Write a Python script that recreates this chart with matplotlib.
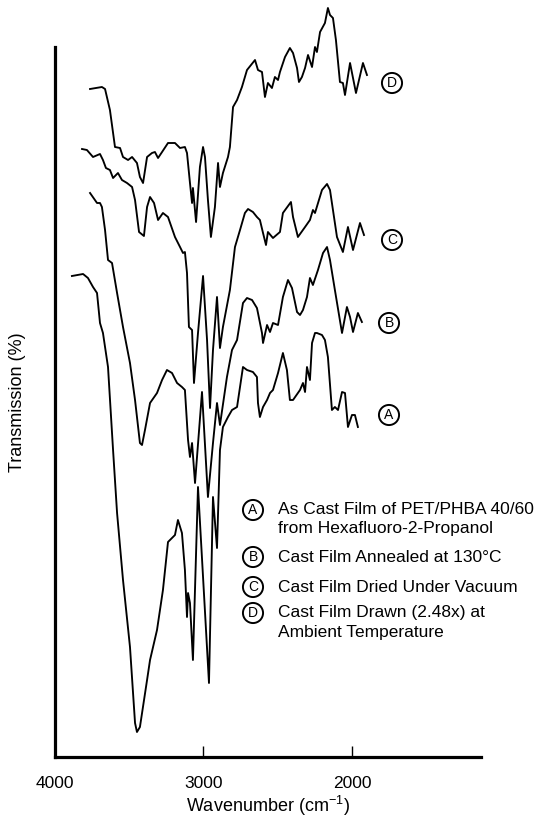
import matplotlib
matplotlib.use("Agg")
import matplotlib.pyplot as plt

# IR spectra of PET/PHBA 40/60 cast films
# (transmission in arbitrary offset units, curves stacked A..D)
wn_a = [3886, 3811, 3778, 3744, 3717, 3697, 3677, 3643, 3609, 3582,
        3542, 3495, 3461, 3448, 3428, 3380, 3360, 3313, 3273, 3239,
        3192, 3172, 3145, 3125, 3111, 3104, 3091, 3071, 3037, 2963,
        2936, 2909, 2889, 2869, 2835, 2808, 2774, 2734, 2707, 2667,
        2640, 2633, 2620, 2599, 2572, 2552, 2532, 2498, 2465, 2438,
        2418, 2397, 2350, 2330, 2316, 2303, 2283, 2269, 2249, 2236,
        2202, 2182, 2162, 2135, 2115, 2094, 2067, 2047, 2027, 2000,
        1980, 1960]
trans_a = [481, 483, 479, 470, 464, 434, 424, 390, 307, 244,
           177, 110, 34, 25, 30, 77, 97, 127, 167, 215,
           222, 237, 224, 187, 140, 164, 154, 97, 270, 74,
           260, 209, 307, 330, 340, 347, 350, 390, 387, 385,
           380, 354, 340, 350, 357, 364, 367, 384, 404, 387,
           357, 357, 367, 374, 365, 390, 377, 414, 424, 424,
           422, 417, 400, 347, 350, 347, 365, 364, 330, 342,
           342, 330]

wn_b = [3764, 3717, 3697, 3684, 3663, 3643, 3616, 3582, 3542, 3495,
        3461, 3428, 3414, 3394, 3360, 3313, 3279, 3246, 3212, 3178,
        3145, 3125, 3104, 3091, 3077, 3057, 3010, 2970, 2936, 2909,
        2889, 2842, 2808, 2774, 2734, 2707, 2673, 2640, 2633, 2606,
        2599, 2572, 2552, 2532, 2498, 2465, 2431, 2404, 2370, 2350,
        2330, 2303, 2283, 2263, 2229, 2195, 2168, 2148, 2115, 2067,
        2034, 2013, 1993, 1960, 1933]
trans_b = [564, 554, 554, 550, 527, 497, 494, 464, 430, 394,
           357, 314, 312, 327, 354, 364, 377, 387, 384, 374,
           370, 367, 317, 300, 314, 274, 365, 260, 314, 354,
           332, 380, 407, 417, 454, 459, 457, 449, 444, 424,
           414, 432, 425, 434, 432, 460, 477, 469, 445, 442,
           447, 460, 479, 472, 487, 504, 510, 497, 467, 424,
           450, 440, 425, 444, 435]

wn_c = [3818, 3785, 3744, 3697, 3677, 3657, 3630, 3609, 3576, 3549,
        3515, 3481, 3461, 3434, 3401, 3380, 3360, 3333, 3306, 3273,
        3239, 3192, 3158, 3138, 3125, 3111, 3098, 3077, 3064, 3037,
        3003, 2976, 2956, 2936, 2909, 2889, 2869, 2822, 2788, 2754,
        2721, 2700, 2667, 2640, 2620, 2599, 2579, 2566, 2532, 2485,
        2465, 2411, 2397, 2364, 2316, 2283, 2263, 2249, 2202, 2168,
        2148, 2101, 2061, 2027, 1993, 1946, 1919]
trans_c = [608, 607, 600, 603, 597, 589, 587, 579, 584, 577,
           574, 570, 557, 525, 521, 550, 560, 554, 537, 544,
           540, 520, 510, 504, 505, 484, 430, 427, 374, 424,
           481, 417, 349, 407, 460, 409, 430, 467, 510, 527,
           544, 548, 545, 540, 537, 524, 512, 525, 519, 525,
           544, 555, 540, 520, 530, 537, 547, 544, 567, 573,
           567, 520, 505, 530, 507, 534, 522]

wn_d = [3764, 3684, 3663, 3630, 3596, 3562, 3542, 3508, 3481, 3448,
        3428, 3407, 3380, 3347, 3327, 3306, 3279, 3239, 3192, 3158,
        3125, 3111, 3091, 3077, 3071, 3050, 3024, 3003, 2990, 2970,
        2950, 2923, 2902, 2889, 2869, 2835, 2822, 2801, 2774, 2741,
        2707, 2653, 2633, 2606, 2586, 2566, 2539, 2519, 2498, 2485,
        2451, 2418, 2397, 2370, 2357, 2337, 2316, 2296, 2269, 2249,
        2236, 2215, 2182, 2162, 2148, 2128, 2108, 2081, 2061, 2047,
        2013, 1973, 1926, 1899]
trans_d = [668, 670, 668, 647, 610, 609, 600, 597, 600, 594,
           580, 574, 600, 604, 605, 599, 605, 614, 614, 609,
           610, 604, 574, 554, 569, 535, 590, 610, 600, 557,
           520, 550, 594, 570, 584, 600, 610, 650, 657, 670,
           687, 697, 687, 685, 660, 674, 669, 680, 677, 685,
           700, 709, 704, 689, 675, 680, 689, 702, 690, 710,
           705, 725, 734, 749, 742, 739, 717, 675, 674, 662,
           694, 664, 694, 682]

curve_letters = ["A", "B", "C", "D"]
legend_lines = [
    ["As Cast Film of PET/PHBA 40/60", "from Hexafluoro-2-Propanol"],
    ["Cast Film Annealed at 130\u00b0C"],
    ["Cast Film Dried Under Vacuum"],
    ["Cast Film Drawn (2.48x) at", "Ambient Temperature"],
]
x_ticks = [4000, 3000, 2000]

plt.rcParams["font.family"] = ["Liberation Sans", "DejaVu Sans"]
plt.rcParams["mathtext.default"] = "regular"

W, H = 545, 825
fig = plt.figure(figsize=(W / 100, H / 100), dpi=100)
ax = fig.add_axes([55 / W, 1 - 757 / H, (481 - 55) / W, (757 - 47) / H])


def px(x, y):
    """figure fraction from reference pixel position"""
    return x / W, 1 - y / H


for wn, tr in [(wn_a, trans_a), (wn_b, trans_b), (wn_c, trans_c), (wn_d, trans_d)]:
    ax.plot(wn, tr, color="black", lw=1.35, clip_on=False, solid_joinstyle="round")

ax.set_xlim(4000, 1131)
ax.set_ylim(0, 710)
ax.set_xticks(x_ticks)
ax.set_xticklabels([str(t) for t in x_ticks], fontsize=12.5)
ax.tick_params(axis="x", direction="in", length=8, width=1.0, pad=14)
ax.set_yticks([])
for side in ["top", "right"]:
    ax.spines[side].set_visible(False)
for side in ["left", "bottom"]:
    ax.spines[side].set_linewidth(2.3)

fig.text(*px(268, 806), "Wavenumber (cm$^{-1}$)", ha="center", va="center", fontsize=13)
fig.text(*px(18, 402), "Transmission (%)", ha="center", va="center",
         rotation=90, fontsize=13)

circle = dict(boxstyle="circle,pad=0.22", fc="white", ec="black", lw=1.4)

# letters at the right end of each curve
label_pos = [(389, 415), (389, 323), (392, 240), (392, 83)]
for letter, (lx, ly) in zip(curve_letters, label_pos):
    fig.text(*px(lx, ly), letter, ha="center", va="center", fontsize=10, bbox=circle)

# key in the lower right
key_y = [510, 557, 587, 613]
for letter, lines, ky in zip(curve_letters, legend_lines, key_y):
    fig.text(*px(253, ky), letter, ha="center", va="center", fontsize=10, bbox=circle)
    for i, line in enumerate(lines):
        fig.text(*px(278, ky + 19 * i), line, ha="left", va="center", fontsize=12.5)

fig.savefig("out.png", dpi=100)
